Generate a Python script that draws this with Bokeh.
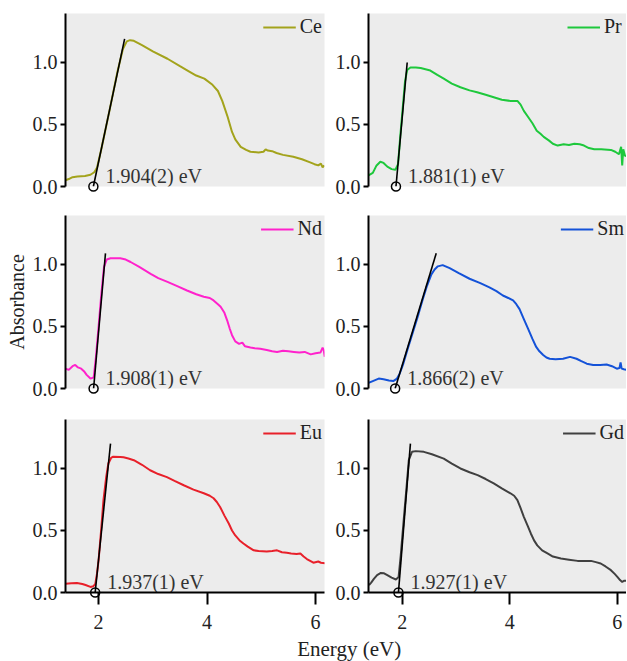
from bokeh.plotting import figure
from bokeh.layouts import column, row
from bokeh.models import Range1d, FixedTicker, PrintfTickFormatter
from bokeh.embed import file_html
from bokeh.resources import INLINE
from bokeh.core.properties import value

FONT = "Times New Roman"

# ---------------- data ----------------
names = ["Ce", "Pr", "Nd", "Sm", "Eu", "Gd"]
colors = ["#a3a31c", "#1ec83c", "#ff22cc", "#1452d8", "#e8202a", "#404040"]
onsets = [1.904, 1.881, 1.908, 1.866, 1.937, 1.927]
onset_labels = ["1.904(2) eV", "1.881(1) eV", "1.908(1) eV", "1.866(2) eV", "1.937(1) eV", "1.927(1) eV"]
tangent_x_top = [2.48, 2.09, 2.127, 2.63, 2.22, 2.15]
tangent_y_top = [1.19, 1.00, 1.09, 1.09, 1.20, 1.20]
x_ticks = [2, 4, 6]
y_ticks = [0.0, 0.5, 1.0]

ce_x = [1.39, 1.45, 1.52, 1.61, 1.75, 1.85, 1.92, 1.97, 2.05, 2.20, 2.35, 2.45, 2.52, 2.58, 2.65, 2.80, 3.00, 3.27, 3.50, 3.64, 3.80, 3.95, 4.10, 4.20, 4.28, 4.38, 4.46, 4.52, 4.62, 4.72, 4.80, 4.95, 5.04, 5.08, 5.12, 5.20, 5.28, 5.40, 5.59, 5.75, 5.90, 5.98, 6.05, 6.10, 6.13, 6.16]
ce_y = [0.05, 0.06, 0.075, 0.08, 0.085, 0.095, 0.115, 0.15, 0.30, 0.61, 0.93, 1.11, 1.17, 1.18, 1.175, 1.14, 1.09, 1.03, 0.97, 0.935, 0.895, 0.87, 0.82, 0.77, 0.69, 0.56, 0.44, 0.38, 0.32, 0.295, 0.28, 0.275, 0.28, 0.30, 0.29, 0.285, 0.27, 0.255, 0.24, 0.22, 0.195, 0.18, 0.17, 0.185, 0.155, 0.17]

pr_x = [1.37, 1.45, 1.52, 1.59, 1.65, 1.72, 1.80, 1.87, 1.92, 1.96, 2.00, 2.05, 2.09, 2.15, 2.25, 2.34, 2.52, 2.65, 2.77, 2.92, 3.08, 3.25, 3.39, 3.55, 3.70, 3.85, 4.01, 4.14, 4.20, 4.26, 4.34, 4.42, 4.50, 4.57, 4.63, 4.73, 4.80, 4.89, 5.00, 5.10, 5.20, 5.30, 5.38, 5.47, 5.57, 5.70, 5.88, 5.96, 6.03, 6.07, 6.09, 6.11, 6.14, 6.19]
pr_y = [0.09, 0.11, 0.17, 0.20, 0.19, 0.16, 0.14, 0.135, 0.18, 0.40, 0.60, 0.85, 0.94, 0.96, 0.96, 0.955, 0.935, 0.90, 0.87, 0.83, 0.80, 0.775, 0.76, 0.74, 0.72, 0.70, 0.69, 0.69, 0.66, 0.61, 0.56, 0.51, 0.45, 0.425, 0.40, 0.37, 0.345, 0.33, 0.34, 0.335, 0.345, 0.34, 0.33, 0.31, 0.30, 0.30, 0.295, 0.28, 0.26, 0.32, 0.17, 0.30, 0.25, 0.24]

nd_x = [1.39, 1.45, 1.52, 1.57, 1.62, 1.68, 1.73, 1.78, 1.85, 1.91, 1.95, 2.00, 2.05, 2.10, 2.15, 2.22, 2.40, 2.50, 2.59, 2.75, 2.96, 3.10, 3.27, 3.45, 3.63, 3.80, 3.94, 4.05, 4.12, 4.20, 4.25, 4.32, 4.37, 4.42, 4.46, 4.52, 4.59, 4.65, 4.70, 4.80, 4.88, 4.98, 5.10, 5.20, 5.29, 5.40, 5.50, 5.60, 5.70, 5.80, 5.91, 6.00, 6.09, 6.13, 6.15, 6.17]
nd_y = [0.16, 0.15, 0.18, 0.19, 0.17, 0.16, 0.14, 0.11, 0.08, 0.09, 0.25, 0.50, 0.76, 0.98, 1.04, 1.05, 1.05, 1.04, 1.02, 0.98, 0.925, 0.89, 0.86, 0.825, 0.79, 0.76, 0.74, 0.73, 0.71, 0.68, 0.66, 0.61, 0.55, 0.48, 0.43, 0.38, 0.36, 0.37, 0.34, 0.33, 0.325, 0.32, 0.31, 0.30, 0.295, 0.305, 0.30, 0.295, 0.29, 0.295, 0.275, 0.285, 0.29, 0.33, 0.31, 0.255]

sm_x = [1.37, 1.45, 1.56, 1.65, 1.75, 1.83, 1.90, 1.95, 2.01, 2.10, 2.20, 2.30, 2.38, 2.46, 2.54, 2.60, 2.66, 2.75, 2.88, 3.05, 3.25, 3.45, 3.62, 3.75, 3.87, 3.97, 4.06, 4.12, 4.18, 4.26, 4.34, 4.42, 4.49, 4.55, 4.62, 4.68, 4.74, 4.85, 4.99, 5.12, 5.24, 5.33, 5.43, 5.55, 5.68, 5.80, 5.90, 5.99, 6.04, 6.06, 6.08, 6.12, 6.18]
sm_y = [0.045, 0.06, 0.08, 0.075, 0.065, 0.06, 0.08, 0.12, 0.19, 0.32, 0.46, 0.60, 0.72, 0.83, 0.92, 0.96, 0.985, 0.995, 0.97, 0.93, 0.885, 0.85, 0.815, 0.785, 0.75, 0.73, 0.71, 0.68, 0.64, 0.56, 0.48, 0.40, 0.335, 0.30, 0.27, 0.25, 0.24, 0.235, 0.24, 0.255, 0.24, 0.22, 0.20, 0.19, 0.19, 0.193, 0.18, 0.16, 0.165, 0.21, 0.16, 0.155, 0.15]

eu_x = [1.39, 1.50, 1.60, 1.70, 1.76, 1.85, 1.90, 1.94, 1.97, 2.00, 2.05, 2.09, 2.14, 2.18, 2.23, 2.27, 2.40, 2.46, 2.55, 2.65, 2.80, 2.95, 3.10, 3.26, 3.40, 3.57, 3.75, 3.94, 4.05, 4.12, 4.18, 4.24, 4.32, 4.40, 4.46, 4.52, 4.60, 4.67, 4.75, 4.86, 4.95, 5.10, 5.20, 5.29, 5.38, 5.47, 5.55, 5.65, 5.72, 5.78, 5.84, 5.90, 5.96, 6.05, 6.10, 6.18]
eu_y = [0.07, 0.075, 0.077, 0.068, 0.06, 0.045, 0.05, 0.07, 0.15, 0.26, 0.52, 0.745, 0.93, 1.04, 1.085, 1.095, 1.093, 1.09, 1.08, 1.067, 1.03, 0.986, 0.955, 0.93, 0.90, 0.865, 0.83, 0.80, 0.78, 0.76, 0.73, 0.69, 0.62, 0.556, 0.50, 0.46, 0.42, 0.395, 0.37, 0.34, 0.335, 0.33, 0.335, 0.34, 0.325, 0.32, 0.315, 0.31, 0.315, 0.29, 0.27, 0.255, 0.24, 0.25, 0.24, 0.235]

gd_x = [1.38, 1.42, 1.47, 1.53, 1.60, 1.66, 1.72, 1.80, 1.88, 1.93, 1.97, 2.03, 2.08, 2.12, 2.18, 2.25, 2.40, 2.55, 2.77, 2.92, 3.08, 3.25, 3.40, 3.55, 3.70, 3.85, 4.01, 4.08, 4.14, 4.20, 4.26, 4.33, 4.39, 4.45, 4.51, 4.60, 4.70, 4.80, 4.95, 5.10, 5.26, 5.40, 5.51, 5.60, 5.69, 5.78, 5.88, 5.95, 6.00, 6.05, 6.09, 6.13, 6.18]
gd_y = [0.06, 0.08, 0.11, 0.14, 0.158, 0.155, 0.14, 0.12, 0.105, 0.125, 0.30, 0.61, 0.86, 1.067, 1.135, 1.14, 1.134, 1.115, 1.08, 1.04, 1.00, 0.97, 0.946, 0.915, 0.88, 0.84, 0.80, 0.78, 0.745, 0.68, 0.61, 0.54, 0.476, 0.42, 0.38, 0.34, 0.315, 0.29, 0.274, 0.265, 0.255, 0.255, 0.255, 0.245, 0.234, 0.21, 0.18, 0.15, 0.126, 0.10, 0.085, 0.095, 0.095]

series_x = [ce_x, pr_x, nd_x, sm_x, eu_x, gd_x]
series_y = [ce_y, pr_y, nd_y, sm_y, eu_y, gd_y]

TEXT_COLOR = "#222222"


def make_panel(i):
    col = i % 2
    rw = i // 2
    left = col == 0
    p = figure(
        frame_width=259 if left else 258,
        frame_height=173,
        x_range=Range1d(1.39 if left else 1.37, 6.165 if left else 6.17),
        y_range=Range1d(0, 1.395),
        output_backend="svg",
        toolbar_location=None,
        min_border_left=65 if left else 36,
        min_border_right=8 if left else 0,
        min_border_top=13 if rw == 0 else 0,
        min_border_bottom=[29, 31, 44][rw],
        background_fill_color="#ececec",
        border_fill_color="white",
        outline_line_color=None,
    )
    p.grid.visible = False

    # y axis
    ya = p.yaxis[0]
    ya.ticker = FixedTicker(ticks=y_ticks)
    ya.formatter = PrintfTickFormatter(format="%.1f")
    ya.axis_line_width = 2
    ya.axis_line_color = "black"
    ya.major_tick_line_width = 2
    ya.major_tick_line_color = "black"
    ya.major_tick_in = 0
    ya.major_tick_out = 5
    ya.minor_tick_line_color = None
    ya.major_label_standoff = 3
    ya.major_label_text_font = FONT
    ya.major_label_text_font_size = "20px"
    ya.major_label_text_color = TEXT_COLOR
    if i == 2:
        ya.axis_label = "Absorbance"
        ya.axis_label_text_font = FONT
        ya.axis_label_text_font_size = "20px"
        ya.axis_label_text_font_style = "normal"
        ya.axis_label_text_color = TEXT_COLOR
        ya.axis_label_standoff = 2

    # x axis
    xa = p.xaxis[0]
    if rw < 2:
        xa.visible = False
    else:
        xa.ticker = FixedTicker(ticks=x_ticks)
        xa.axis_line_width = 2
        xa.axis_line_color = "black"
        xa.major_tick_line_width = 2
        xa.major_tick_line_color = "black"
        xa.major_tick_in = 0
        xa.major_tick_out = 12
        xa.minor_tick_line_color = None
        xa.major_label_standoff = 10
        xa.major_label_text_font = FONT
        xa.major_label_text_font_size = "20px"
        xa.major_label_text_color = TEXT_COLOR

    # data curve
    p.line(series_x[i], series_y[i], line_color=colors[i], line_width=2, legend_label=names[i])

    # tangent line + onset marker + label
    p.line([onsets[i], tangent_x_top[i]], [0, tangent_y_top[i]], line_color="black", line_width=1.6)
    r = p.scatter([onsets[i]], [0], marker="circle", size=9, fill_color=None,
                  line_color="black", line_width=1.5)
    r.level = "overlay"
    p.text([onsets[i]], [0], text=[onset_labels[i]], x_offset=12, y_offset=-11,
           text_font=value(FONT), text_font_size="20px", text_color="#333333",
           text_align="left", text_baseline="middle")

    lg = p.legend[0]
    lg.location = "top_right"
    lg.background_fill_alpha = 0
    lg.border_line_color = None
    lg.margin = 2
    lg.padding = 3
    lg.spacing = 0
    lg.glyph_width = 33
    lg.glyph_height = 20
    lg.label_standoff = 4
    lg.label_text_font = FONT
    lg.label_text_font_size = "20px"
    lg.label_text_color = TEXT_COLOR
    return p


panels = [make_panel(i) for i in range(6)]

# shared x-axis title
xl = figure(frame_width=626, frame_height=25, x_range=Range1d(0, 1), y_range=Range1d(0, 1),
            output_backend="svg", toolbar_location=None, min_border=0,
            outline_line_color=None, border_fill_color="white", background_fill_color="white")
xl.axis.visible = False
xl.grid.visible = False
xl.text([0.557], [0.5], text=["Energy (eV)"], text_align="center", text_baseline="middle",
        text_font=value(FONT), text_font_size="21px", text_color=TEXT_COLOR)

layout = column(row(panels[0], panels[1]), row(panels[2], panels[3]),
                row(panels[4], panels[5]), xl)

open("out.html", "w").write(file_html(layout, INLINE))
